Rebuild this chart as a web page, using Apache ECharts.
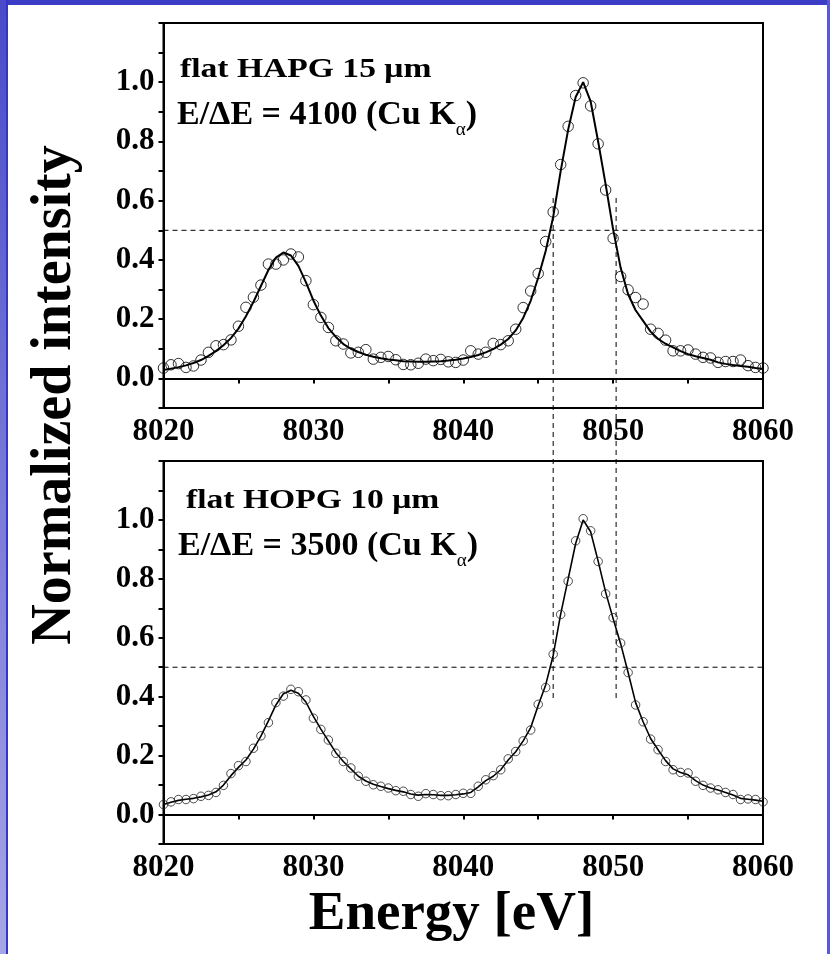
<!DOCTYPE html>
<html><head><meta charset="utf-8">
<script src="https://cdn.jsdelivr.net/npm/echarts@6/dist/echarts.min.js"></script>
<style>html,body{margin:0;padding:0;background:#fff}#c{width:830px;height:954px}</style>
</head><body><div id="c"></div>
<script>
// ---- data ----
const energy = [8020,8020.5,8021,8021.5,8022,8022.5,8023,8023.5,8024,8024.5,8025,8025.5,8026,8026.5,8027,8027.5,8028,8028.5,8029,8029.5,
 8030,8030.5,8031,8031.5,8032,8032.5,8033,8033.5,8034,8034.5,8035,8035.5,8036,8036.5,8037,8037.5,8038,8038.5,8039,8039.5,
 8040,8040.5,8041,8041.5,8042,8042.5,8043,8043.5,8044,8044.5,8045,8045.5,8046,8046.5,8047,8047.5,8048,8048.5,8049,8049.5,
 8050,8050.5,8051,8051.5,8052,8052.5,8053,8053.5,8054,8054.5,8055,8055.5,8056,8056.5,8057,8057.5,8058,8058.5,8059,8059.5,8060];

const hapgMeasured = [0.035,0.046,0.050,0.037,0.042,0.062,0.088,0.110,0.114,0.130,0.176,0.240,0.274,0.315,0.386,0.386,0.400,0.420,0.410,0.330,
 0.249,0.206,0.172,0.127,0.116,0.086,0.088,0.097,0.065,0.071,0.074,0.063,0.047,0.046,0.051,0.065,0.060,0.064,0.056,0.054,
 0.062,0.093,0.082,0.088,0.118,0.114,0.127,0.166,0.239,0.295,0.354,0.462,0.562,0.722,0.851,0.955,0.998,0.920,0.792,0.636,
 0.473,0.344,0.299,0.273,0.251,0.166,0.152,0.129,0.093,0.093,0.096,0.082,0.071,0.069,0.054,0.057,0.057,0.062,0.043,0.037,0.035];

const hapgFit = [0.028,0.033,0.038,0.044,0.052,0.062,0.076,0.092,0.112,0.136,0.168,0.210,0.258,0.312,0.366,0.408,0.425,0.415,0.380,0.325,
 0.263,0.212,0.170,0.140,0.116,0.100,0.089,0.080,0.073,0.068,0.064,0.061,0.058,0.057,0.056,0.056,0.057,0.058,0.060,0.063,
 0.067,0.072,0.079,0.088,0.099,0.114,0.133,0.162,0.204,0.262,0.340,0.430,0.545,0.700,0.840,0.950,1.000,0.935,0.800,0.655,
 0.503,0.374,0.284,0.230,0.194,0.158,0.133,0.117,0.105,0.092,0.082,0.075,0.069,0.063,0.054,0.049,0.045,0.042,0.039,0.035,0.032];

const hopgMeasured = [0.034,0.043,0.051,0.051,0.054,0.062,0.065,0.075,0.099,0.139,0.166,0.180,0.225,0.267,0.312,0.380,0.402,0.425,0.417,0.389,
 0.327,0.289,0.253,0.208,0.180,0.158,0.130,0.113,0.101,0.096,0.090,0.081,0.079,0.068,0.062,0.071,0.068,0.064,0.064,0.068,
 0.072,0.072,0.096,0.118,0.132,0.152,0.189,0.214,0.250,0.287,0.374,0.431,0.544,0.679,0.792,0.929,1.004,0.963,0.859,0.749,
 0.668,0.582,0.482,0.372,0.315,0.256,0.220,0.180,0.152,0.143,0.141,0.113,0.099,0.090,0.084,0.075,0.068,0.051,0.053,0.051,0.043];

const hopgFit = [0.034,0.042,0.048,0.052,0.055,0.060,0.066,0.077,0.100,0.132,0.160,0.185,0.222,0.266,0.318,0.372,0.410,0.422,0.412,0.382,
 0.333,0.290,0.250,0.210,0.180,0.155,0.130,0.114,0.103,0.095,0.088,0.082,0.077,0.070,0.066,0.068,0.067,0.065,0.065,0.067,
 0.070,0.075,0.094,0.115,0.130,0.152,0.185,0.213,0.250,0.295,0.370,0.440,0.540,0.680,0.800,0.920,1.000,0.960,0.860,0.755,
 0.665,0.580,0.482,0.380,0.315,0.258,0.220,0.183,0.155,0.143,0.135,0.115,0.100,0.090,0.083,0.075,0.066,0.055,0.052,0.049,0.045];

const halfMaxLevel = 0.5;
const halfMaxEnergies = [8046.0, 8050.2];
const xRange = [8020, 8060];
const yRange = [-0.1, 1.2];
const panelTitles = ['flat HAPG 15 \u03bcm', 'flat HOPG 10 \u03bcm'];
const resolutionTexts = ['E/\u0394E = 4100 (Cu K', 'E/\u0394E = 3500 (Cu K'];
const xAxisTitle = 'Energy [eV]';
const yAxisTitle = 'Normalized intensity';

// ---- chart ----
const FF = '"Liberation Serif", "Times New Roman", Times, serif';
const pairs = arr => energy.map((e, i) => [e, arr[i]]);

function xAxisCfg(gi) {
  return {
    type: 'value', gridIndex: gi, min: xRange[0], max: xRange[1], interval: 5,
    axisLine: { show: true, lineStyle: { color: '#000', width: 2 } },
    axisTick: { show: true, inside: false, length: 5, lineStyle: { color: '#000', width: 2 } },
    axisLabel: {
      margin: 8, color: '#000', fontFamily: FF, fontWeight: 'bold', fontSize: 31,
      formatter: v => (Math.round(v) % 10 === 0 ? String(Math.round(v)) : '')
    },
    splitLine: { show: false }
  };
}
function yAxisCfg(gi) {
  return {
    type: 'value', gridIndex: gi, min: yRange[0], max: yRange[1], interval: 0.1,
    axisLine: { show: true, lineStyle: { color: '#000', width: 2 } },
    axisTick: { show: true, inside: false, length: 5, lineStyle: { color: '#000', width: 2 } },
    axisLabel: {
      margin: 9, color: '#000', fontFamily: FF, fontWeight: 'bold', fontSize: 31,
      formatter: v => { const k = Math.round(v * 10); return (k >= 0 && k <= 10 && k % 2 === 0) ? (k / 10).toFixed(1) : ''; }
    },
    splitLine: { show: false }
  };
}
const dashStyle = { color: '#000', width: 1, type: [5, 4] };

const series = [];
[[hapgFit, hapgMeasured, 0, 2, 10.5, '#000'], [hopgFit, hopgMeasured, 1, 1.6, 8.5, '#222']].forEach(([fit, meas, gi, lw, ss, bc]) => {
  series.push({
    type: 'line', xAxisIndex: gi, yAxisIndex: gi, data: [[xRange[0], halfMaxLevel], [xRange[1], halfMaxLevel]],
    symbol: 'none', lineStyle: dashStyle, silent: true, z: 1
  });
  series.push({
    type: 'line', xAxisIndex: gi, yAxisIndex: gi, data: pairs(fit), symbol: 'none',
    smooth: false, lineStyle: { color: '#000', width: lw }, z: 3
  });
  series.push({
    type: 'scatter', xAxisIndex: gi, yAxisIndex: gi, data: pairs(meas), symbol: 'circle', symbolSize: ss,
    itemStyle: { color: 'rgba(255,255,255,0)', borderColor: bc, borderWidth: 1 }, z: 4
  });
});
halfMaxEnergies.forEach(e => {
  series.push({
    type: 'line', xAxisIndex: 2, yAxisIndex: 2, data: [[e, 0], [e, 1]],
    symbol: 'none', lineStyle: dashStyle, silent: true, z: 1
  });
});

const graphic = [
  { type: 'rect', shape: { x: 0, y: 0, width: 830, height: 5 }, style: { fill: '#3c3cc6' }, z: 100 },
  { type: 'rect', shape: { x: 0, y: 0, width: 7, height: 954 },
    style: { fill: new echarts.graphic.LinearGradient(0, 0, 0, 1, [{ offset: 0, color: '#4a4aca' }, { offset: 1, color: '#a6a6e6' }]) }, z: 100 },
  { type: 'rect', shape: { x: 6, y: 0, width: 2, height: 954 }, style: { fill: '#3636c4' }, z: 100 },
  { type: 'rect', shape: { x: 827, y: 0, width: 3, height: 954 }, style: { fill: '#5a5ad2' }, z: 100 },
  { type: 'text', x: 56, y: 395, rotation: Math.PI / 2,
    style: { text: yAxisTitle, font: 'bold 56px ' + FF, fill: '#000', align: 'center', verticalAlign: 'middle', textAlign: 'center', textVerticalAlign: 'middle' } },
  { type: 'text', x: 451.5, y: 915,
    style: { text: xAxisTitle, font: 'bold 55px ' + FF, fill: '#000', align: 'center', verticalAlign: 'middle', textAlign: 'center', textVerticalAlign: 'middle' } }
];
const titlePos = [[180, 69.8], [186, 500.5]];
const resPos = [[177, 98.2], [178, 528.8]];
[0, 1].forEach(i => {
  graphic.push({ type: 'text', x: titlePos[i][0], y: titlePos[i][1], scaleX: 1.2,
    style: { text: panelTitles[i], font: 'bold 28px ' + FF, fill: '#000', align: 'left', verticalAlign: 'middle', textAlign: 'left', textVerticalAlign: 'middle' } });
  graphic.push({ type: 'text', x: resPos[i][0], y: resPos[i][1],
    style: {
      text: '{m|' + resolutionTexts[i] + '}{s|\u03b1}{m|)}',
      fill: '#000', align: 'left', verticalAlign: 'top', textAlign: 'left', textVerticalAlign: 'top',
      rich: {
        m: { fontFamily: FF, fontWeight: 'bold', fontSize: 34, lineHeight: 34, verticalAlign: 'top', fill: '#000', color: '#000' },
        s: { fontFamily: FF, fontWeight: 'normal', fontSize: 19, lineHeight: 19, verticalAlign: 'top', padding: [22.5, 0, 0, 0], fill: '#000', color: '#000' }
      }
    } });
});

const chart = echarts.init(document.getElementById('c'), null, { renderer: 'canvas' });
chart.setOption({
  animation: false,
  backgroundColor: '#ffffff',
  grid: [
    { left: 163.5, top: 23, width: 599.5, height: 385, show: true, borderColor: '#000', borderWidth: 2, backgroundColor: 'transparent' },
    { left: 163.5, top: 461, width: 599.5, height: 383, show: true, borderColor: '#000', borderWidth: 2, backgroundColor: 'transparent' },
    { left: 163.5, top: 198, width: 599.5, height: 500, show: false }
  ],
  xAxis: [xAxisCfg(0), xAxisCfg(1), { type: 'value', gridIndex: 2, min: xRange[0], max: xRange[1], show: false }],
  yAxis: [yAxisCfg(0), yAxisCfg(1), { type: 'value', gridIndex: 2, min: 0, max: 1, show: false }],
  series: series,
  graphic: graphic
});
</script>
</body></html>
